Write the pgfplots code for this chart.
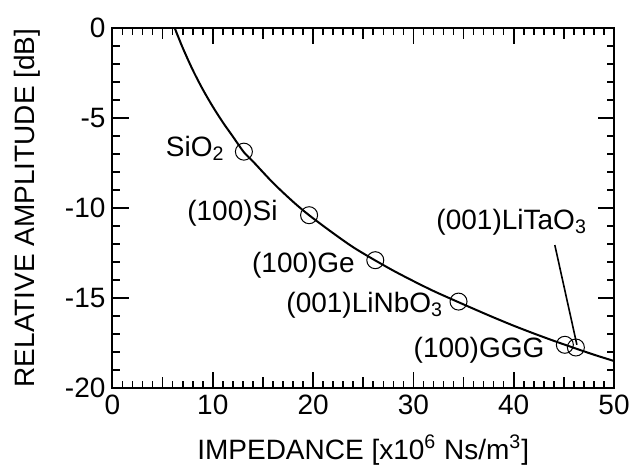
\documentclass[border=0pt]{standalone}
\usepackage{fontspec}
\setmainfont{Liberation Sans}
\usepackage{pgfplots}
\pgfplotsset{compat=1.18}
\begin{document}
\begin{tikzpicture}[font=\fontsize{14}{16}\selectfont]
\begin{axis}[
  scale only axis,
  width=250.75pt, height=180pt,
  xmin=0, xmax=50, ymin=-20, ymax=0,
  axis line style={line width=1pt},
  tick style={line width=0.8pt, black},
  tick align=inside,
  tick label style={font=\fontsize{14}{16}\selectfont},
  xtick={0,10,20,30,40,50},
  xticklabels={0,10,20,30,40,50},
  ytick={-20,-15,-10,-5,0},
  yticklabels={-20,-15,-10,-5,0},
  minor x tick num=9,
  minor y tick num=4,
  major tick length=8pt,
  minor tick length=3.5pt,
  extra x ticks={5,15,25,35,45},
  extra x tick labels={},
  extra x tick style={major tick length=5.5pt, grid=none},
  xlabel={IMPEDANCE [x10\textsuperscript{6} Ns/m\textsuperscript{3}]},
  ylabel={RELATIVE AMPLITUDE [dB]},
  every axis y label/.style={at={(rel axis cs:0,0.5)}, xshift=-42.75pt, rotate=90, anchor=center, font=\fontsize{14}{16}\selectfont},
  every axis x label/.style={at={(rel axis cs:0.5,0)}, anchor=center, yshift=-31pt, font=\fontsize{14}{16}\selectfont},
  clip=false,
]
\addplot[black, line width=1pt, smooth] coordinates {
(6.2,0) (7,-1.10) (8,-2.33) (9,-3.41) (10,-4.37) (11,-5.24) (12,-6.03)
(13.1,-6.9) (14,-7.41) (16,-8.6) (18,-9.65) (19.6,-10.4) (22,-11.4)
(24,-12.18) (26,-12.85) (28,-13.48) (30,-14.06) (32,-14.61) (34,-15.11)
(36,-15.6) (38,-16.08) (40,-16.54) (42,-16.97) (44,-17.38) (46,-17.77)
(48,-18.15) (50,-18.5)
};
\addplot[only marks, mark=o, mark size=4.25pt, mark options={line width=0.5pt, black}] coordinates {
(13.1,-6.87) (19.6,-10.4) (26.2,-12.9) (34.5,-15.2) (45.1,-17.6) (46.2,-17.75)
};
\node[anchor=east, inner sep=0pt] at (axis cs:11.2,-6.67) {SiO\textsubscript{2}};
\node[anchor=east, inner sep=0pt] at (axis cs:16.5,-10.28) {(100)Si};
\node[anchor=east, inner sep=0pt] at (axis cs:24.2,-13.2) {(100)Ge};
\node[anchor=east, inner sep=0pt] at (axis cs:33,-15.4) {(001)LiNbO\textsubscript{3}};
\node[anchor=east, inner sep=0pt] at (axis cs:43.1,-17.9) {(100)GGG};
\node[anchor=center, inner sep=0pt] at (axis cs:39.8,-10.8) {(001)LiTaO\textsubscript{3}};
\draw[line width=0.8pt] (axis cs:44.1,-12.06) -- (axis cs:46.3,-17.6);
\coordinate (bl) at (rel axis cs:0,0);
\coordinate (tr) at (rel axis cs:1,1);
\end{axis}
\path ([xshift=-56.25pt,yshift=-43.5pt]bl) rectangle ([xshift=13.5pt,yshift=14pt]tr);
\end{tikzpicture}
\end{document}
